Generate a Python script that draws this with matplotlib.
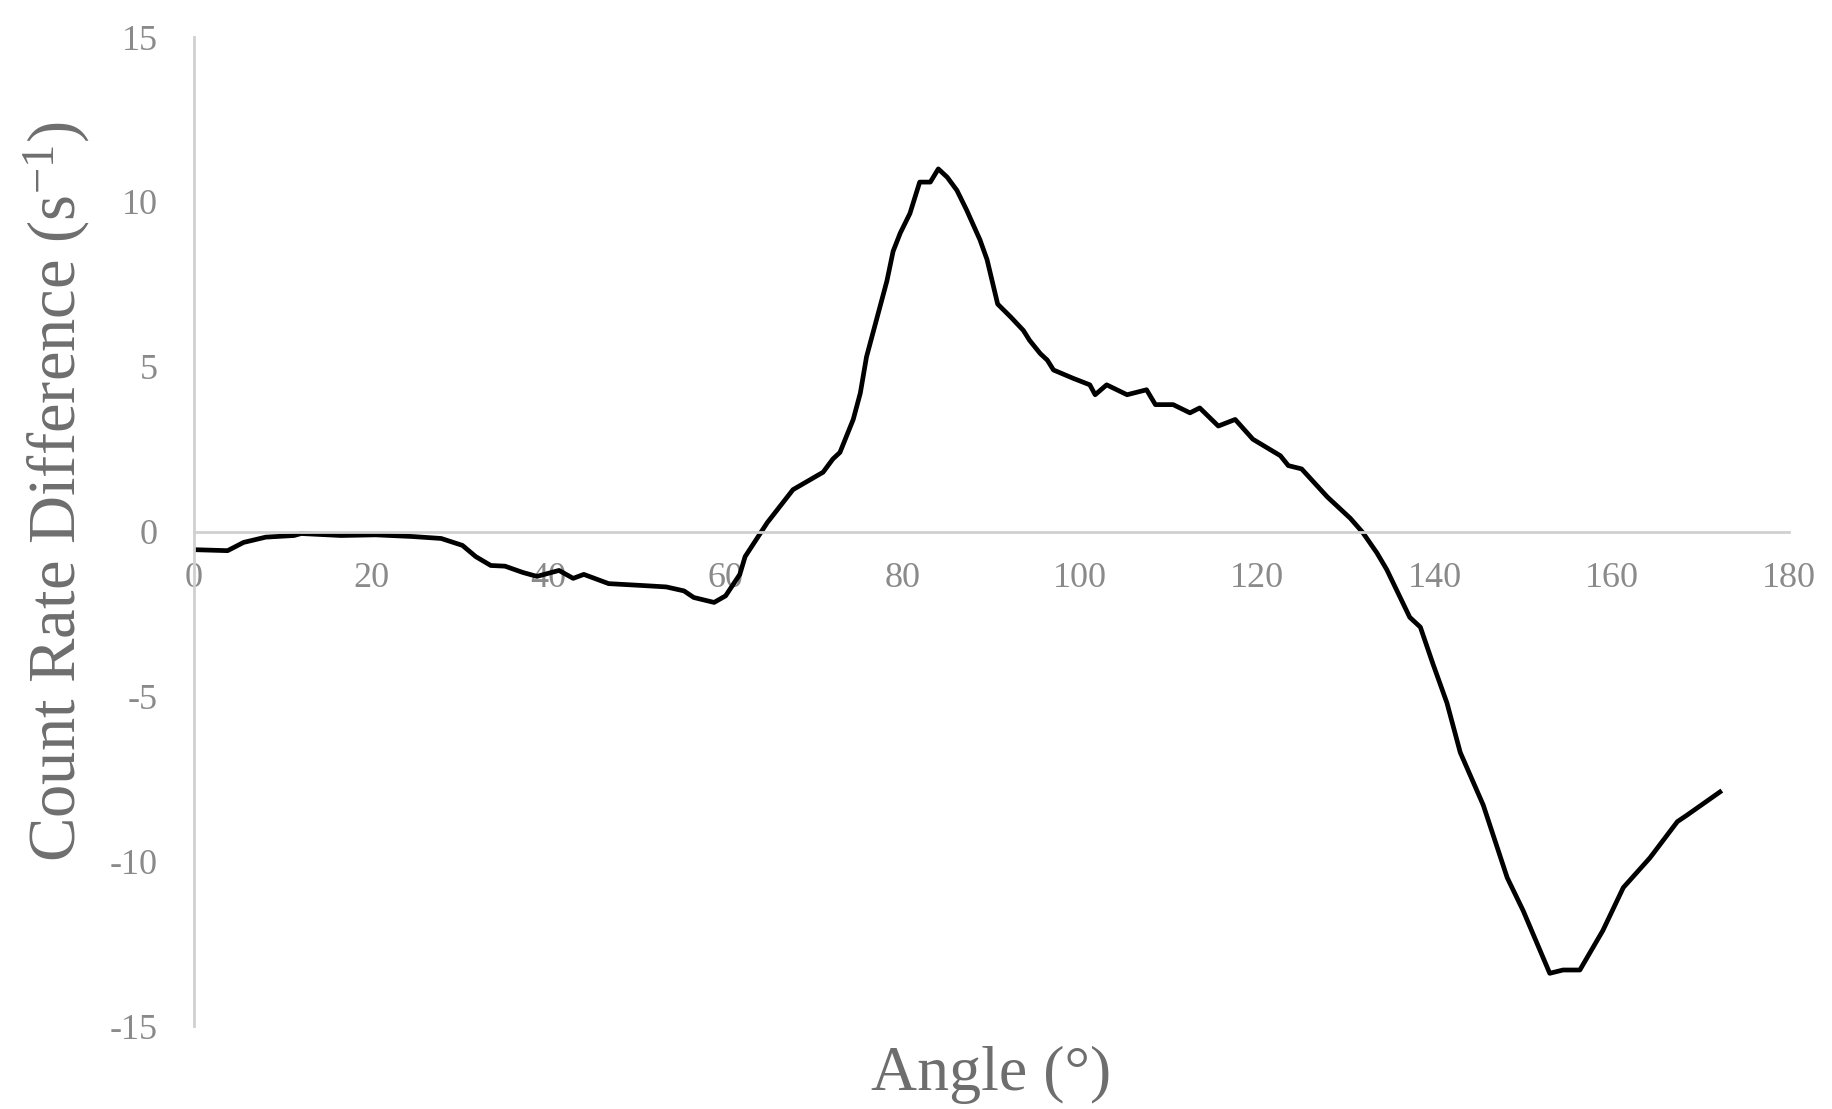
import matplotlib.pyplot as plt

# Count rate difference vs. angle
angle = [0, 3.8, 5.6, 8.1, 11.3, 12.1, 16.6, 20.5, 24.6, 27.9,
         30.3, 31.8, 33.5, 35.1, 37.1, 38.7, 41.2, 42.8, 44.0, 46.8,
         50.8, 53.3, 55.3, 56.4, 58.7, 60.0, 61.6, 62.2, 64.7, 67.6,
         71.0, 72.1, 72.9, 74.4, 75.2, 75.9, 77.1, 78.2, 78.9, 79.7,
         80.8, 81.9, 83.1, 84.0, 85.0, 86.1, 87.2, 88.7, 89.5, 90.7,
         92.2, 93.6, 94.3, 95.5, 96.3, 97.0, 99.2, 101.1, 101.7, 103.0,
         105.3, 107.5, 108.5, 110.5, 112.4, 113.5, 115.6, 117.5, 119.5, 122.6,
         123.5, 125.0, 127.9, 130.5, 131.9, 133.5, 134.6, 137.2, 138.4, 139.8,
         141.4, 142.9, 145.5, 148.2, 150.0, 153.0, 154.5, 156.4, 159.0, 161.3,
         164.3, 167.4, 168.5, 172.2]
diff = [-0.55, -0.58, -0.33, -0.17, -0.12, -0.06, -0.12, -0.10, -0.15, -0.21,
        -0.42, -0.76, -1.03, -1.05, -1.24, -1.36, -1.18, -1.42, -1.30, -1.58,
        -1.64, -1.68, -1.80, -2.00, -2.15, -1.95, -1.30, -0.76, 0.27, 1.27,
        1.80, 2.20, 2.40, 3.40, 4.20, 5.30, 6.50, 7.60, 8.50, 9.05,
        9.65, 10.60, 10.60, 11.00, 10.75, 10.35, 9.75, 8.85, 8.25, 6.90,
        6.50, 6.10, 5.80, 5.40, 5.20, 4.90, 4.65, 4.45, 4.15, 4.45,
        4.15, 4.30, 3.85, 3.85, 3.60, 3.75, 3.20, 3.40, 2.80, 2.30,
        2.00, 1.90, 1.05, 0.40, -0.03, -0.65, -1.15, -2.60, -2.90, -4.00,
        -5.20, -6.70, -8.30, -10.50, -11.50, -13.40, -13.30, -13.30, -12.10, -10.80,
        -9.90, -8.80, -8.60, -7.90]

xticks = [0, 20, 40, 60, 80, 100, 120, 140, 160, 180]
yticks = [-15, -10, -5, 0, 5, 10, 15]

plt.rcParams['font.family'] = ['Liberation Serif', 'DejaVu Serif']
plt.rcParams['axes.unicode_minus'] = False
plt.rcParams['mathtext.fontset'] = 'custom'
plt.rcParams['mathtext.rm'] = 'Liberation Serif'

fig = plt.figure(figsize=(18.33, 11.09), dpi=100)
ax = fig.add_axes([0.1058, 0.0748, 0.8702, 0.8918])

ax.plot(angle, diff, color='black', linewidth=3.4, solid_joinstyle='round')

ax.set_xlim(0, 180)
ax.set_ylim(-15, 15)
ax.set_xticks(xticks)
ax.set_yticks(yticks)

# Excel-style axes: horizontal axis through zero, plain grey lines
for side in ['top', 'right']:
    ax.spines[side].set_visible(False)
ax.spines['bottom'].set_position(('data', 0))
ax.spines['left'].set_position(('data', 0))
for side in ['bottom', 'left']:
    ax.spines[side].set_color('#d0d0d0')
    ax.spines[side].set_linewidth(2)

ax.tick_params(axis='both', length=0, labelsize=26, labelcolor='#8a8a8a')
ax.tick_params(axis='x', pad=22)
ax.tick_params(axis='y', pad=26)

ax.set_xlabel('Angle (°)', fontsize=46, color='#6e6e6e')
ax.set_ylabel('Count Rate Difference (s$\\mathregular{^{-1}}$)', fontsize=48, color='#6e6e6e')
ax.xaxis.set_label_coords(0.5, -0.02)
ax.yaxis.set_label_coords(-0.064, 0.54)

fig.savefig('out.png', dpi=100, facecolor='white')
